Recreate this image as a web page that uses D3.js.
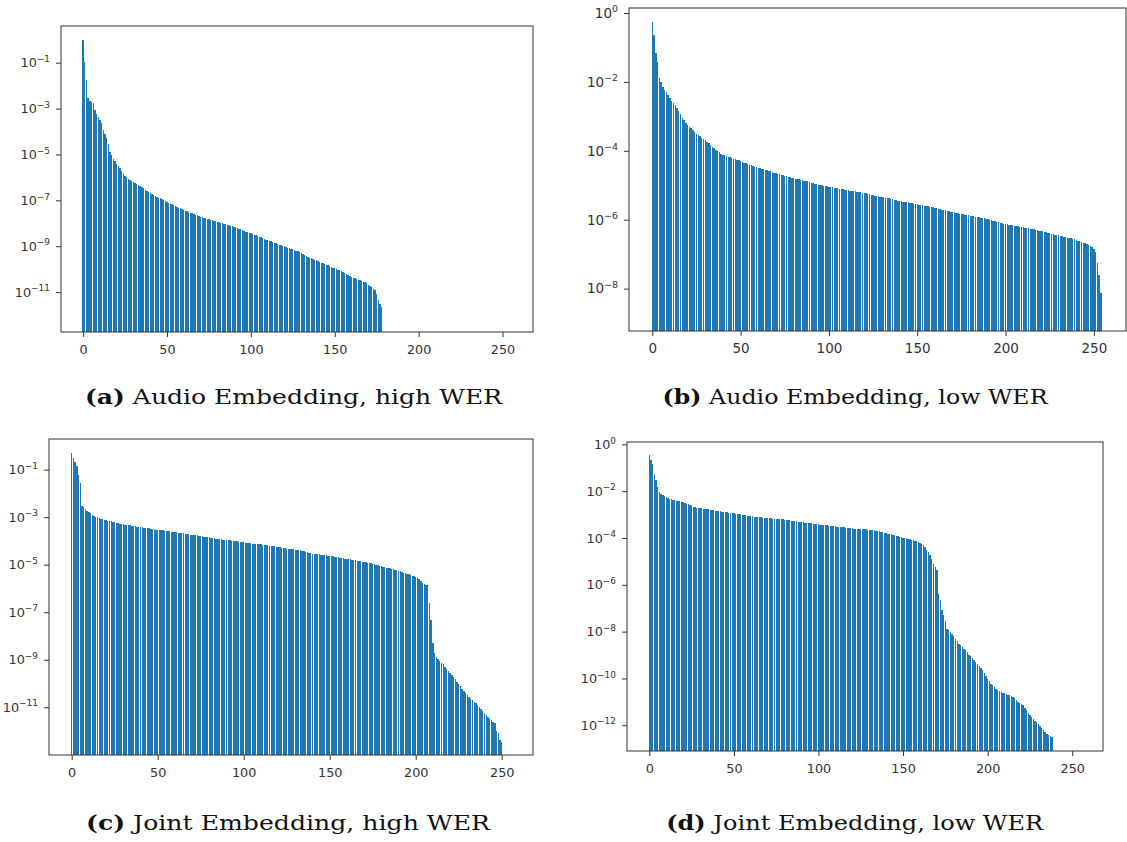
<!DOCTYPE html>
<html>
<head>
<meta charset="utf-8">
<script src="https://cdn.jsdelivr.net/npm/d3@7"></script>
<style>
  body { margin: 0; background: #fff; }
  svg { display: block; }
  .tick text { font-family: "DejaVu Sans", sans-serif; fill: #333; }
  .caption { font-family: "DejaVu Serif", serif; fill: #111; }
</style>
</head>
<body>
<div id="fig"></div>
<script>
// log10 of each eigenvalue, by index
var audioHighWER = [
  -0.02, -0.97, -1.75, -2.55, -2.68, -2.70, -2.74, -3.05, -3.25, -3.38,
  -3.50, -3.62, -3.95, -4.10, -4.30, -4.55, -4.90, -5.02, -5.18, -5.30,
  -5.40, -5.50, -5.60, -5.70, -5.85, -5.95, -6.00, -6.05, -6.10, -6.15,
  -6.20, -6.25, -6.29, -6.33, -6.38, -6.43, -6.48, -6.53, -6.58, -6.63,
  -6.68, -6.73, -6.77, -6.81, -6.85, -6.88, -6.92, -6.96, -7.00, -7.03,
  -7.06, -7.10, -7.14, -7.17, -7.21, -7.25, -7.28, -7.32, -7.35, -7.39,
  -7.42, -7.45, -7.48, -7.51, -7.54, -7.57, -7.60, -7.63, -7.66, -7.69,
  -7.72, -7.74, -7.76, -7.78, -7.80, -7.82, -7.84, -7.86, -7.89, -7.91,
  -7.93, -7.95, -7.97, -7.99, -8.02, -8.04, -8.06, -8.08, -8.11, -8.13,
  -8.15, -8.18, -8.21, -8.24, -8.27, -8.30, -8.33, -8.36, -8.39, -8.42,
  -8.44, -8.47, -8.50, -8.53, -8.56, -8.59, -8.62, -8.65, -8.68, -8.71,
  -8.73, -8.76, -8.79, -8.82, -8.85, -8.88, -8.91, -8.94, -8.96, -8.98,
  -9.00, -9.03, -9.06, -9.09, -9.12, -9.14, -9.17, -9.20, -9.23, -9.26,
  -9.30, -9.34, -9.38, -9.43, -9.46, -9.50, -9.53, -9.56, -9.59, -9.62,
  -9.65, -9.68, -9.72, -9.75, -9.78, -9.81, -9.84, -9.87, -9.90, -9.93,
  -9.96, -9.99, -10.02, -10.04, -10.08, -10.12, -10.16, -10.20, -10.25, -10.30,
  -10.34, -10.37, -10.40, -10.43, -10.46, -10.49, -10.52, -10.55, -10.58, -10.62,
  -10.67, -10.72, -10.78, -10.85, -10.91, -11.10, -11.35, -11.50, -11.64
];

var audioLowWER = [
  -0.27, -0.63, -1.15, -1.41, -1.89, -2.00, -2.15, -2.23, -2.30, -2.38,
  -2.48, -2.55, -2.62, -2.68, -2.76, -2.85, -2.92, -3.05, -3.12, -3.20,
  -3.26, -3.30, -3.35, -3.40, -3.45, -3.50, -3.54, -3.58, -3.62, -3.66,
  -3.70, -3.74, -3.78, -3.82, -3.88, -3.93, -3.97, -4.00, -4.04, -4.08,
  -4.11, -4.13, -4.15, -4.17, -4.19, -4.21, -4.23, -4.25, -4.26, -4.28,
  -4.30, -4.32, -4.34, -4.36, -4.38, -4.40, -4.42, -4.45, -4.47, -4.48,
  -4.50, -4.51, -4.53, -4.54, -4.56, -4.57, -4.59, -4.60, -4.62, -4.63,
  -4.65, -4.66, -4.68, -4.69, -4.71, -4.72, -4.74, -4.75, -4.77, -4.78,
  -4.80, -4.81, -4.82, -4.83, -4.84, -4.85, -4.87, -4.88, -4.89, -4.91,
  -4.92, -4.93, -4.95, -4.96, -4.98, -4.99, -5.00, -5.01, -5.02, -5.03,
  -5.04, -5.05, -5.06, -5.07, -5.08, -5.09, -5.10, -5.11, -5.12, -5.13,
  -5.14, -5.15, -5.16, -5.17, -5.17, -5.18, -5.19, -5.20, -5.21, -5.22,
  -5.22, -5.23, -5.24, -5.25, -5.27, -5.28, -5.30, -5.31, -5.32, -5.33,
  -5.34, -5.35, -5.36, -5.37, -5.38, -5.40, -5.41, -5.42, -5.43, -5.45,
  -5.46, -5.47, -5.48, -5.48, -5.49, -5.50, -5.51, -5.52, -5.53, -5.54,
  -5.55, -5.56, -5.57, -5.58, -5.59, -5.60, -5.61, -5.62, -5.63, -5.64,
  -5.65, -5.67, -5.68, -5.70, -5.71, -5.72, -5.73, -5.74, -5.76, -5.77,
  -5.78, -5.79, -5.80, -5.81, -5.82, -5.83, -5.84, -5.85, -5.86, -5.87,
  -5.88, -5.89, -5.90, -5.91, -5.92, -5.93, -5.94, -5.95, -5.96, -5.97,
  -5.99, -6.00, -6.02, -6.03, -6.05, -6.06, -6.08, -6.09, -6.10, -6.11,
  -6.12, -6.13, -6.14, -6.15, -6.16, -6.17, -6.18, -6.19, -6.20, -6.21,
  -6.22, -6.23, -6.24, -6.25, -6.26, -6.27, -6.28, -6.29, -6.31, -6.32,
  -6.33, -6.34, -6.35, -6.37, -6.38, -6.40, -6.41, -6.42, -6.43, -6.44,
  -6.45, -6.46, -6.47, -6.49, -6.51, -6.52, -6.53, -6.54, -6.56, -6.57,
  -6.59, -6.61, -6.63, -6.65, -6.67, -6.69, -6.71, -6.73, -6.76, -6.80,
  -6.84, -6.95, -7.27, -7.60, -8.14
];

var jointHighWER = [
  -0.30, -0.50, -0.66, -0.86, -1.21, -1.56, -2.52, -2.57, -2.64, -2.72,
  -2.78, -2.84, -2.89, -2.94, -2.98, -3.01, -3.04, -3.07, -3.09, -3.11,
  -3.13, -3.15, -3.17, -3.18, -3.20, -3.22, -3.24, -3.26, -3.27, -3.28,
  -3.30, -3.31, -3.32, -3.33, -3.35, -3.36, -3.38, -3.39, -3.40, -3.41,
  -3.42, -3.43, -3.44, -3.45, -3.46, -3.47, -3.49, -3.50, -3.51, -3.52,
  -3.53, -3.54, -3.55, -3.56, -3.57, -3.58, -3.59, -3.60, -3.61, -3.62,
  -3.63, -3.64, -3.65, -3.66, -3.67, -3.68, -3.70, -3.71, -3.72, -3.73,
  -3.74, -3.75, -3.76, -3.77, -3.78, -3.80, -3.81, -3.82, -3.83, -3.84,
  -3.85, -3.86, -3.88, -3.89, -3.90, -3.91, -3.92, -3.93, -3.94, -3.95,
  -3.96, -3.97, -3.98, -3.99, -4.00, -4.01, -4.02, -4.03, -4.04, -4.05,
  -4.06, -4.07, -4.08, -4.09, -4.10, -4.11, -4.12, -4.13, -4.14, -4.15,
  -4.15, -4.16, -4.17, -4.18, -4.19, -4.20, -4.21, -4.22, -4.23, -4.24,
  -4.26, -4.27, -4.29, -4.30, -4.31, -4.32, -4.33, -4.34, -4.35, -4.36,
  -4.37, -4.38, -4.39, -4.40, -4.41, -4.43, -4.45, -4.47, -4.49, -4.51,
  -4.53, -4.54, -4.55, -4.56, -4.57, -4.58, -4.59, -4.60, -4.61, -4.62,
  -4.63, -4.64, -4.65, -4.66, -4.67, -4.68, -4.70, -4.72, -4.73, -4.75,
  -4.76, -4.77, -4.78, -4.79, -4.80, -4.81, -4.83, -4.84, -4.86, -4.88,
  -4.89, -4.90, -4.92, -4.93, -4.94, -4.96, -4.98, -5.00, -5.02, -5.04,
  -5.06, -5.08, -5.10, -5.12, -5.14, -5.16, -5.18, -5.20, -5.22, -5.24,
  -5.26, -5.28, -5.30, -5.33, -5.35, -5.38, -5.40, -5.43, -5.46, -5.49,
  -5.52, -5.56, -5.62, -5.70, -5.76, -5.80, -5.84, -5.86, -6.60, -7.32,
  -8.30, -8.70, -8.87, -8.95, -9.05, -9.12, -9.20, -9.30, -9.40, -9.48,
  -9.56, -9.65, -9.74, -9.83, -9.92, -10.02, -10.12, -10.22, -10.32, -10.42,
  -10.50, -10.58, -10.64, -10.70, -10.76, -10.84, -10.92, -11.00, -11.08, -11.16,
  -11.25, -11.32, -11.40, -11.48, -11.55, -11.61, -11.66, -12.00, -12.10, -12.38,
  -12.45
];

var jointLowWER = [
  -0.47, -0.65, -0.83, -1.25, -1.54, -1.82, -2.04, -2.10, -2.18, -2.22,
  -2.26, -2.29, -2.32, -2.34, -2.36, -2.38, -2.40, -2.42, -2.44, -2.46,
  -2.48, -2.50, -2.53, -2.56, -2.61, -2.63, -2.66, -2.68, -2.70, -2.71,
  -2.73, -2.74, -2.75, -2.76, -2.77, -2.78, -2.79, -2.80, -2.81, -2.83,
  -2.84, -2.85, -2.86, -2.87, -2.88, -2.89, -2.90, -2.92, -2.93, -2.94,
  -2.95, -2.96, -2.97, -2.98, -2.99, -3.01, -3.02, -3.03, -3.04, -3.05,
  -3.07, -3.08, -3.09, -3.10, -3.11, -3.11, -3.12, -3.13, -3.14, -3.14,
  -3.15, -3.15, -3.16, -3.17, -3.17, -3.18, -3.19, -3.20, -3.20, -3.21,
  -3.22, -3.23, -3.24, -3.25, -3.26, -3.27, -3.28, -3.29, -3.30, -3.31,
  -3.32, -3.33, -3.34, -3.35, -3.36, -3.37, -3.38, -3.39, -3.40, -3.41,
  -3.42, -3.43, -3.44, -3.44, -3.45, -3.46, -3.47, -3.48, -3.49, -3.50,
  -3.50, -3.51, -3.52, -3.53, -3.54, -3.55, -3.56, -3.57, -3.58, -3.58,
  -3.59, -3.60, -3.60, -3.61, -3.61, -3.62, -3.62, -3.63, -3.63, -3.64,
  -3.65, -3.66, -3.67, -3.68, -3.69, -3.70, -3.72, -3.73, -3.75, -3.77,
  -3.79, -3.81, -3.83, -3.85, -3.87, -3.89, -3.91, -3.93, -3.94, -3.96,
  -3.98, -4.00, -4.02, -4.04, -4.06, -4.08, -4.10, -4.12, -4.15, -4.18,
  -4.22, -4.27, -4.32, -4.39, -4.50, -4.62, -4.74, -4.90, -5.10, -5.25,
  -5.38, -6.40, -6.67, -7.09, -7.30, -7.55, -7.88, -7.95, -8.02, -8.09,
  -8.20, -8.30, -8.41, -8.52, -8.59, -8.66, -8.73, -8.80, -8.89, -8.98,
  -9.06, -9.14, -9.23, -9.31, -9.40, -9.48, -9.57, -9.66, -9.78, -9.90,
  -10.02, -10.12, -10.23, -10.30, -10.37, -10.44, -10.50, -10.55, -10.58, -10.61,
  -10.64, -10.67, -10.70, -10.72, -10.73, -10.78, -10.85, -10.93, -11.00, -11.04,
  -11.08, -11.15, -11.25, -11.35, -11.46, -11.58, -11.65, -11.72, -11.80, -11.87,
  -11.94, -12.02, -12.10, -12.20, -12.29, -12.36, -12.42, -12.48, -12.50
];

// tick exponents and labels
var xTicks = [0, 50, 100, 150, 200, 250];
var yTicksOdd = [-1, -3, -5, -7, -9, -11];
var yTicksEvenB = [0, -2, -4, -6, -8];
var yTicksEvenD = [0, -2, -4, -6, -8, -10, -12];
var captionTags = ["(a)", "(b)", "(c)", "(d)"];
var captionTexts = [
  "Audio Embedding, high WER",
  "Audio Embedding, low WER",
  "Joint Embedding, high WER",
  "Joint Embedding, low WER"
];

var W = 1127, H = 842;
var barColor = "#1f77b4";

// layout of each subplot (axes box in px, y range as log10 exponents)
var panels = [
  {data: audioHighWER, left: 61, top: 26, right: 533, bottom: 332, yExp: [-12.74, 0.60], yTicks: yTicksOdd, fs: 12.8, capX: 293.5, capY: 404, capW: 417},
  {data: audioLowWER, left: 629, top: 8, right: 1126, bottom: 331, yExp: [-9.23, 0.145], yTicks: yTicksEvenB, fs: 13.5, capX: 855, capY: 404, capW: 385},
  {data: jointHighWER, left: 49, top: 439, right: 533, bottom: 755, yExp: [-13.01, 0.29], yTicks: yTicksOdd, fs: 12.8, capX: 288, capY: 830, capW: 404},
  {data: jointLowWER, left: 627, top: 442, right: 1103, bottom: 751, yExp: [-13.10, 0.10], yTicks: yTicksEvenD, fs: 12.8, capX: 854.7, capY: 830, capW: 377}
];

var svg = d3.select("#fig").append("svg")
    .attr("width", W)
    .attr("height", H);

function superLabels(sel, fs) {
  sel.each(function(d) {
    var e = Math.round(Math.log10(d));
    var t = d3.select(this).text(null);
    t.append("tspan").text("10");
    t.append("tspan")
      .attr("dy", -0.42 * fs)
      .attr("font-size", fs * 0.7)
      .text(e < 0 ? "\u2212" + (-e) : String(e));
  });
}

panels.forEach(function(p, k) {
  var x = d3.scaleLinear()
      .domain([-13.19, 268.19])
      .range([p.left, p.right]);
  var y = d3.scaleLog()
      .domain([Math.pow(10, p.yExp[0]), Math.pow(10, p.yExp[1])])
      .range([p.bottom, p.top]);

  var clipId = "clip" + k;
  svg.append("clipPath").attr("id", clipId)
    .append("rect")
      .attr("x", p.left).attr("y", p.top)
      .attr("width", p.right - p.left).attr("height", p.bottom - p.top);

  // bars
  svg.append("g")
      .attr("clip-path", "url(#" + clipId + ")")
    .selectAll("rect")
    .data(p.data)
    .enter()
    .append("rect")
      .attr("x", function(d, i) { return x(i - 0.4); })
      .attr("width", x(0.8) - x(0))
      .attr("y", function(d) { return y(Math.pow(10, d)); })
      .attr("height", function(d) { return p.bottom - y(Math.pow(10, d)); })
      .attr("fill", barColor)
      .attr("shape-rendering", "crispEdges");

  // x axis
  var gx = svg.append("g")
      .attr("transform", "translate(0," + p.bottom + ")")
      .call(d3.axisBottom(x).tickValues(xTicks).tickSize(5).tickSizeOuter(0).tickPadding(7.5));
  gx.selectAll("text").attr("font-size", p.fs);

  // y axis
  var gy = svg.append("g")
      .attr("transform", "translate(" + p.left + ",0)")
      .call(d3.axisLeft(y)
        .tickValues(p.yTicks.map(function(e) { return Math.pow(10, e); }))
        .tickSize(5).tickSizeOuter(0).tickPadding(6));
  gy.selectAll("text").attr("font-size", p.fs).call(superLabels, p.fs);

  svg.selectAll(".domain").remove();
  svg.selectAll(".tick line").attr("stroke", "#333");

  // frame
  svg.append("rect")
      .attr("x", p.left).attr("y", p.top)
      .attr("width", p.right - p.left).attr("height", p.bottom - p.top)
      .attr("fill", "none")
      .attr("stroke", "#333")
      .attr("stroke-width", 1);

  // caption
  var cap = svg.append("text")
      .attr("class", "caption")
      .attr("x", p.capX).attr("y", p.capY)
      .attr("text-anchor", "middle")
      .attr("font-size", 20.5)
      .attr("textLength", p.capW)
      .attr("lengthAdjust", "spacingAndGlyphs");
  cap.append("tspan").attr("font-weight", "bold").text(captionTags[k]);
  cap.append("tspan").text("\u00a0" + captionTexts[k]);
});
</script>
</body>
</html>
